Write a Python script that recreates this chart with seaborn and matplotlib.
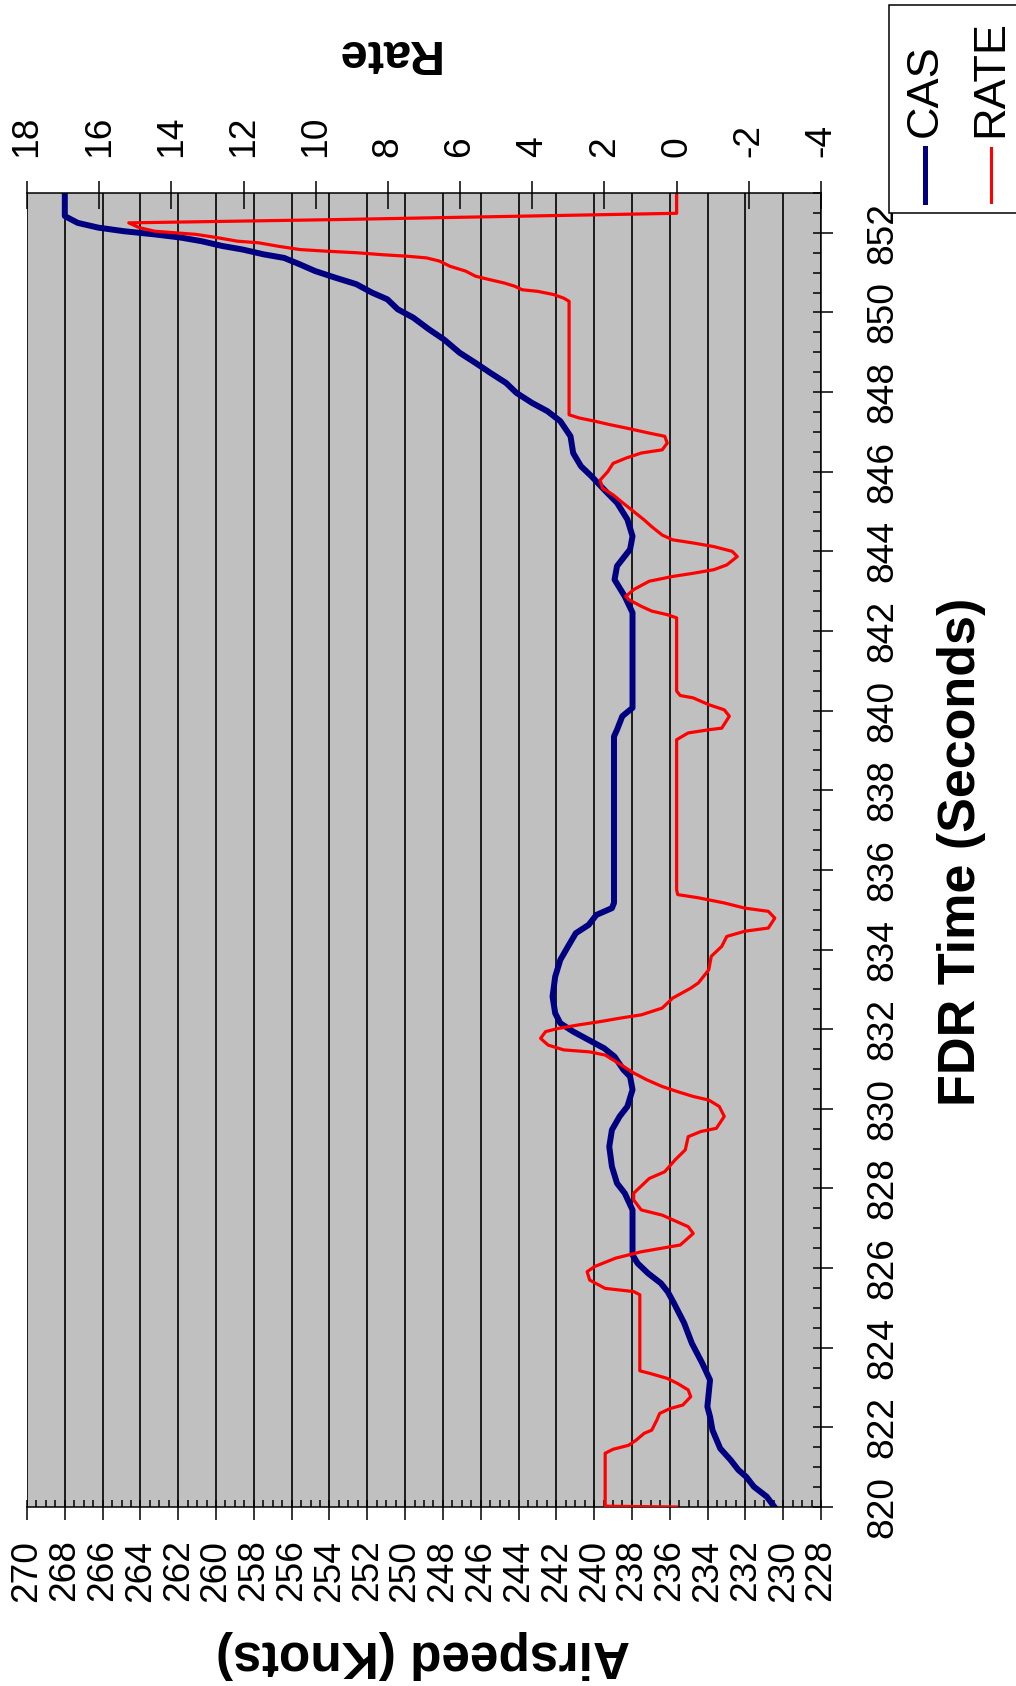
import matplotlib
matplotlib.use('Agg')
import matplotlib.pyplot as plt
from matplotlib.ticker import MultipleLocator, FormatStrFormatter
from matplotlib.patches import Rectangle
from matplotlib.lines import Line2D
import seaborn as sns
import pandas as pd

# ---------------- data ----------------
cas_time = [820.00, 820.26, 820.51, 820.76, 820.93, 821.18, 821.47, 821.93, 822.27, 822.52,
            823.19, 823.61, 824.11, 824.62, 825.12, 825.40, 825.62, 825.87, 826.12, 826.33,
            827.46, 827.88, 828.13, 828.55, 829.05, 829.47, 829.81, 830.06, 830.48, 830.81,
            830.98, 831.31, 831.52, 831.73, 831.94, 832.15, 832.40, 832.82, 833.32, 833.74,
            834.08, 834.41, 834.62, 834.87, 835.04, 835.17, 839.35, 839.52, 839.86, 840.07,
            842.46, 842.87, 843.29, 843.63, 844.05, 844.38, 844.80, 845.22, 845.55, 845.89,
            846.14, 846.47, 846.89, 847.27, 847.52, 847.73, 847.98, 848.23, 848.48, 848.74,
            848.99, 849.32, 849.58, 849.87, 850.08, 850.33, 850.50, 850.71, 850.87, 851.04,
            851.21, 851.37, 851.46, 851.58, 851.67, 851.79, 851.88, 851.96, 852.04, 852.13,
            852.25, 852.42, 853.00]
cas_knots = [230.46, 230.87, 231.55, 231.96, 232.37, 232.78, 233.33, 233.74, 233.87, 234.01,
             233.87, 234.28, 234.83, 235.24, 235.78, 236.10, 236.47, 237.15, 237.70, 237.97,
             237.97, 238.38, 238.79, 239.06, 239.20, 239.06, 238.65, 238.24, 237.97, 238.10,
             238.45, 238.92, 239.47, 240.29, 241.11, 241.79, 242.06, 242.20, 242.06, 241.79,
             241.38, 240.97, 240.29, 239.88, 239.06, 238.95, 238.95, 238.79, 238.51, 237.97,
             237.97, 238.38, 238.92, 238.79, 238.10, 237.97, 238.24, 238.79, 239.47, 240.15,
             240.70, 241.11, 241.25, 241.79, 242.47, 243.29, 244.11, 244.66, 245.48, 246.30,
             247.12, 247.94, 248.75, 249.57, 250.39, 250.94, 251.76, 252.58, 253.67, 254.76,
             255.58, 256.40, 257.49, 258.59, 259.68, 260.77, 261.86, 263.23, 264.87, 266.23,
             267.32, 268.00, 268.00]

rate_time = [820.00, 820.02, 821.35, 821.45, 821.55, 821.68, 821.85, 821.93, 822.18, 822.35,
             822.47, 822.56, 822.77, 822.94, 823.10, 823.23, 823.36, 823.42, 825.33, 825.41,
             825.49, 825.70, 825.91, 826.04, 826.25, 826.41, 826.50, 826.58, 826.87, 827.04,
             827.33, 827.46, 827.71, 827.88, 828.25, 828.42, 828.72, 828.97, 829.30, 829.43,
             829.51, 829.81, 830.06, 830.22, 830.31, 830.43, 830.56, 830.73, 830.90, 831.11,
             831.35, 831.43, 831.48, 831.60, 831.77, 831.94, 832.02, 832.11, 832.19, 832.28,
             832.36, 832.53, 832.78, 833.03, 833.16, 833.49, 833.83, 834.08, 834.33, 834.46,
             834.54, 834.79, 834.96, 835.04, 835.17, 835.30, 835.38, 835.50, 839.27, 839.44,
             839.52, 839.56, 839.86, 840.02, 840.15, 840.32, 840.38, 840.49, 842.33, 842.41,
             842.50, 842.62, 842.79, 842.87, 843.04, 843.25, 843.37, 843.45, 843.54, 843.66,
             843.87, 844.00, 844.12, 844.21, 844.29, 844.41, 844.62, 844.79, 845.00, 845.21,
             845.42, 845.58, 845.79, 846.00, 846.21, 846.34, 846.47, 846.55, 846.72, 846.89,
             846.97, 847.10, 847.18, 847.27, 847.35, 847.43, 850.28, 850.36, 850.45, 850.53,
             850.57, 850.66, 850.74, 850.83, 850.91, 851.04, 851.16, 851.29, 851.37, 851.41,
             851.45, 851.50, 851.54, 851.58, 851.66, 851.75, 851.79, 851.88, 851.96, 852.00,
             852.04, 852.13, 852.25, 852.33, 852.49, 853.00]
rate_value = [0.00, 1.98, 1.98, 1.76, 1.33, 1.12, 0.90, 0.69, 0.55, 0.47,
              0.19, -0.17, -0.39, -0.32, -0.03, 0.26, 0.76, 1.02, 1.02, 1.19,
              1.98, 2.41, 2.48, 2.27, 1.69, 0.98, 0.40, -0.10, -0.46, -0.32,
              0.40, 0.98, 1.19, 1.19, 0.76, 0.33, 0.04, -0.24, -0.32, -0.67,
              -1.10, -1.32, -1.18, -0.89, -0.46, -0.03, 0.40, 0.83, 1.19, 1.55,
              1.98, 2.41, 3.13, 3.56, 3.77, 3.63, 3.27, 2.70, 2.12, 1.55,
              0.98, 0.40, 0.11, -0.39, -0.60, -0.89, -0.96, -1.25, -1.39, -1.89,
              -2.54, -2.72, -2.54, -1.89, -1.32, -0.60, -0.03, 0.00, 0.00, -0.32,
              -0.89, -1.25, -1.46, -1.32, -0.89, -0.46, -0.10, 0.00, 0.00, 0.26,
              0.69, 0.98, 1.33, 1.41, 1.19, 0.76, 0.11, -0.46, -1.03, -1.39,
              -1.68, -1.54, -1.03, -0.46, 0.11, 0.40, 0.69, 0.90, 1.19, 1.48,
              1.76, 2.05, 2.12, 1.91, 1.76, 1.41, 0.98, 0.40, 0.26, 0.33,
              0.76, 1.41, 1.84, 2.27, 2.70, 2.98, 2.98, 3.13, 3.41, 3.85,
              4.28, 4.49, 4.78, 5.21, 5.57, 5.85, 6.28, 6.57, 6.93, 7.43,
              8.15, 8.87, 9.73, 10.44, 11.02, 11.59, 12.17, 12.74, 13.31, 13.89,
              14.46, 14.89, 15.18, 9.58, 0.00, 0.00]

series_names = ['CAS', 'RATE']
airspeed_label = 'Airspeed (Knots)'
rate_label = 'Rate'
time_label = 'FDR Time (Seconds)'

# ---------------- style ----------------
plt.rcParams['font.family'] = ['Liberation Sans', 'DejaVu Sans']
plt.rcParams['axes.unicode_minus'] = False

NAVY = '#000080'
RED = '#FF0000'
GREY = '#C0C0C0'

W, H = 1016, 1686
fig = plt.figure(figsize=(W / 100, H / 100), dpi=100)
fig.patch.set_facecolor('white')

L, R, T, B = 27, 821, 193, 1507
ax = fig.add_axes([L / W, 1 - B / H, (R - L) / W, (B - T) / H])
ax.set_facecolor(GREY)
ax2 = ax.twiny()

cas_df = pd.DataFrame({'time': cas_time, 'knots': cas_knots})
rate_df = pd.DataFrame({'time': rate_time, 'rate': rate_value})

sns.lineplot(data=cas_df, x='knots', y='time', orient='y', sort=False, estimator=None,
             color=NAVY, linewidth=4.3, ax=ax, legend=False)
sns.lineplot(data=rate_df, x='rate', y='time', orient='y', sort=False, estimator=None,
             color=RED, linewidth=2.3, ax=ax2, legend=False)

ax.set_xlim(270, 228)
ax.set_ylim(820, 853)
ax2.set_xlim(18, -4)
ax2.set_ylim(820, 853)
ax.set_xlabel('')
ax.set_ylabel('')
ax2.set_xlabel('')
ax2.set_ylabel('')

# gridlines (vertical, one per airspeed major tick)
ax.set_axisbelow(True)
ax.xaxis.grid(True, which='major', color='black', linewidth=1.2)
ax.yaxis.grid(False)

TICK_FS = 26.7
# airspeed axis (bottom)
ax.xaxis.set_major_locator(MultipleLocator(2))
ax.xaxis.set_minor_locator(MultipleLocator(0.5))
ax.xaxis.set_major_formatter(FormatStrFormatter('%d'))
ax.xaxis.remove_overlapping_locs = False
ax.tick_params(axis='x', which='major', direction='out', length=9.4, width=1.1,
               pad=14, labelsize=TICK_FS, labelrotation=90, bottom=True, top=False)
ax.tick_params(axis='x', which='minor', direction='in', length=5.0, width=1.1,
               bottom=True, top=False)

# time axis (right)
ax.yaxis.tick_right()
ax.yaxis.set_major_locator(MultipleLocator(2))
ax.yaxis.set_minor_locator(MultipleLocator(0.5))
ax.yaxis.set_major_formatter(FormatStrFormatter('%d'))
ax.yaxis.remove_overlapping_locs = False
ax.tick_params(axis='y', which='major', direction='out', length=8.6, width=1.1,
               pad=23, labelsize=TICK_FS, labelrotation=90, right=True, left=False)
ax.tick_params(axis='y', which='minor', direction='in', length=5.8, width=1.1,
               right=True, left=False)

# rate axis (top)
ax2.xaxis.set_major_locator(MultipleLocator(2))
ax2.xaxis.set_minor_locator(MultipleLocator(2))
ax2.xaxis.set_major_formatter(FormatStrFormatter('%d'))
ax2.xaxis.remove_overlapping_locs = False
ax2.tick_params(axis='x', which='major', direction='out', length=8.6, width=1.1,
                pad=17, labelsize=TICK_FS, labelrotation=90, top=True, bottom=False)
ax2.tick_params(axis='x', which='minor', direction='in', length=11.5, width=1.1,
                top=True, bottom=False)

for s in ['left', 'top']:
    ax.spines[s].set_visible(False)
for s in ['bottom', 'right']:
    ax.spines[s].set_linewidth(1.1)
for s in ['left', 'bottom', 'right']:
    ax2.spines[s].set_visible(False)
ax2.spines['top'].set_linewidth(1.1)

for lbl in ax.get_yticklabels():
    lbl.set_va('center')

# axis titles
fig.text(423 / W, 1 - 1654 / H, airspeed_label, rotation=180, ha='center', va='center',
         fontsize=37, fontweight='bold')
fig.text(386 / W, 1 - 53 / H, rate_label, rotation=180, ha='center', va='center',
         fontsize=35, fontweight='bold')
fig.text(961 / W, 1 - 852 / H, time_label, rotation=90, ha='center', va='center',
         fontsize=37.5, fontweight='bold')

# legend (rotated, drawn by hand)
fig.add_artist(Rectangle((889 / W, 1 - 213 / H), (1040 - 889) / W, (213 - 5) / H,
                         transform=fig.transFigure, facecolor='white', edgecolor='black',
                         linewidth=1.1, clip_on=False))
for xc, col, lw, name in [(925, NAVY, 3.6, series_names[0]), (991, RED, 2.2, series_names[1])]:
    fig.add_artist(Line2D([xc / W, xc / W], [1 - 202 / H, 1 - 148 / H], color=col,
                          linewidth=lw, transform=fig.transFigure))
    fig.text(xc / W, 1 - 137 / H, name, rotation=90, ha='center', va='bottom', fontsize=32.5)

fig.savefig('out.png', dpi=100)
